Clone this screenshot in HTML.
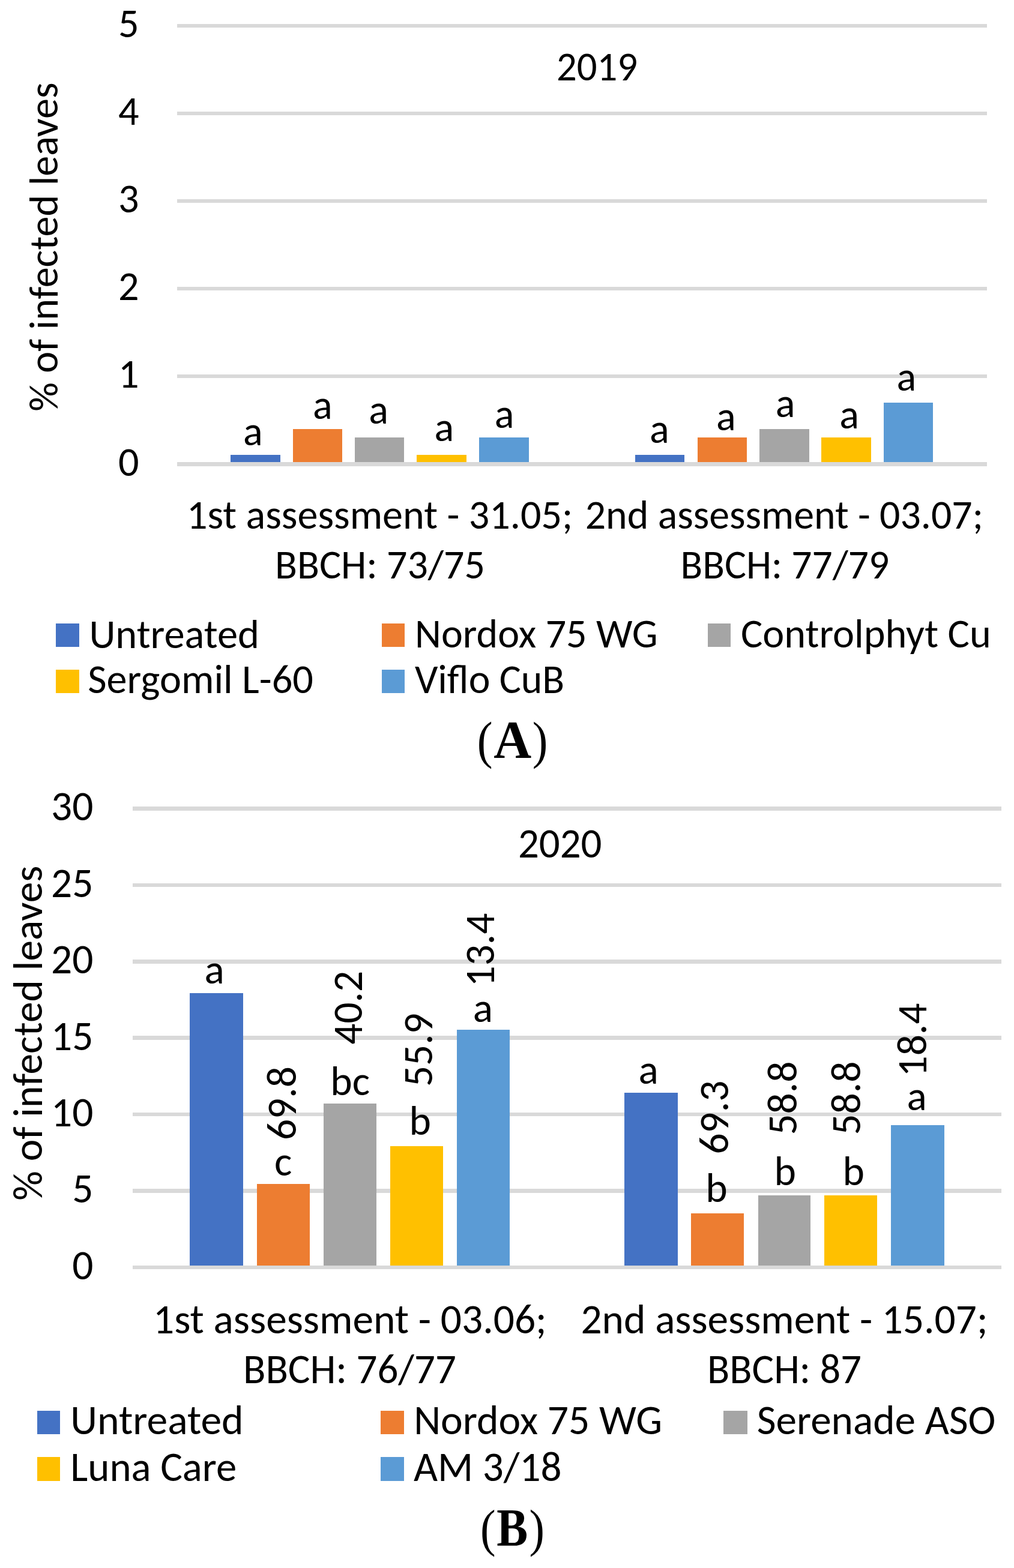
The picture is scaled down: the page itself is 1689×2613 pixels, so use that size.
<!DOCTYPE html>
<html><head><meta charset="utf-8"><title>Figure</title>
<style>html,body{margin:0;padding:0;background:#fff}svg{display:block}</style></head>
<body>
<svg width="1689" height="2613" viewBox="0 0 1689 2613" font-family='"Carlito", "Liberation Sans", sans-serif' fill="#000" style="font-size-adjust:0.4775">
<rect width="1689" height="2613" fill="#fff"/>
<rect x="295" y="770" width="1349" height="7" fill="#D9D9D9"/>
<rect x="295" y="624" width="1349" height="6" fill="#D9D9D9"/>
<rect x="295" y="478" width="1349" height="6" fill="#D9D9D9"/>
<rect x="295" y="332" width="1349" height="6" fill="#D9D9D9"/>
<rect x="295" y="186" width="1349" height="6" fill="#D9D9D9"/>
<rect x="295" y="40" width="1349" height="6" fill="#D9D9D9"/>
<rect x="384" y="758" width="83" height="12" fill="#4472C4"/>
<rect x="488" y="715" width="82" height="55" fill="#ED7D31"/>
<rect x="591" y="729" width="82" height="41" fill="#A5A5A5"/>
<rect x="694" y="758" width="83" height="12" fill="#FFC000"/>
<rect x="798" y="729" width="83" height="41" fill="#5B9BD5"/>
<rect x="1058" y="758" width="82" height="12" fill="#4472C4"/>
<rect x="1162" y="729" width="82" height="41" fill="#ED7D31"/>
<rect x="1265" y="715" width="83" height="55" fill="#A5A5A5"/>
<rect x="1368" y="729" width="83" height="41" fill="#FFC000"/>
<rect x="1472" y="671" width="82" height="99" fill="#5B9BD5"/>
<text id="tickA0" x="231.53" y="792.50" font-size="68.2" text-anchor="end" textLength="34.56" lengthAdjust="spacingAndGlyphs">0</text>
<text id="tickA1" x="231.53" y="646.40" font-size="68.2" text-anchor="end" textLength="34.56" lengthAdjust="spacingAndGlyphs">1</text>
<text id="tickA2" x="231.53" y="500.30" font-size="68.2" text-anchor="end" textLength="34.56" lengthAdjust="spacingAndGlyphs">2</text>
<text id="tickA3" x="231.53" y="354.20" font-size="68.2" text-anchor="end" textLength="34.56" lengthAdjust="spacingAndGlyphs">3</text>
<text id="tickA4" x="231.53" y="208.10" font-size="68.2" text-anchor="end" textLength="34.56" lengthAdjust="spacingAndGlyphs">4</text>
<text id="tickA5" x="231.53" y="62.00" font-size="68.2" text-anchor="end" textLength="34.56" lengthAdjust="spacingAndGlyphs">5</text>
<text id="axisA" transform="translate(96.40 685.85) rotate(-90)" font-size="68.2" textLength="548.41" lengthAdjust="spacingAndGlyphs">% of infected leaves</text>
<text id="titleA" x="926.94" y="134.30" font-size="68.2" textLength="135.24" lengthAdjust="spacingAndGlyphs">2019</text>
<text id="labA0" x="405.10" y="741.90" font-size="68.2" textLength="32.67" lengthAdjust="spacingAndGlyphs">a</text>
<text id="labA1" x="521.00" y="697.90" font-size="68.2" textLength="32.67" lengthAdjust="spacingAndGlyphs">a</text>
<text id="labA2" x="614.20" y="705.50" font-size="68.2" textLength="32.67" lengthAdjust="spacingAndGlyphs">a</text>
<text id="labA3" x="723.45" y="735.10" font-size="68.2" textLength="32.67" lengthAdjust="spacingAndGlyphs">a</text>
<text id="labA4" x="823.70" y="712.90" font-size="68.2" textLength="32.67" lengthAdjust="spacingAndGlyphs">a</text>
<text id="labA5" x="1082.05" y="737.90" font-size="68.2" textLength="32.67" lengthAdjust="spacingAndGlyphs">a</text>
<text id="labA6" x="1192.90" y="716.70" font-size="68.2" textLength="32.67" lengthAdjust="spacingAndGlyphs">a</text>
<text id="labA7" x="1291.80" y="694.50" font-size="68.2" textLength="32.67" lengthAdjust="spacingAndGlyphs">a</text>
<text id="labA8" x="1398.30" y="713.50" font-size="68.2" textLength="32.67" lengthAdjust="spacingAndGlyphs">a</text>
<text id="labA9" x="1493.60" y="650.50" font-size="68.2" textLength="32.67" lengthAdjust="spacingAndGlyphs">a</text>
<text id="cat1A" x="310.91" y="880.80" font-size="68.2" textLength="643.32" lengthAdjust="spacingAndGlyphs">1st assessment - 31.05;</text>
<text id="cat1A2" x="458.00" y="963.60" font-size="68.2" textLength="349.93" lengthAdjust="spacingAndGlyphs">BBCH: 73/75</text>
<text id="cat2A" x="974.74" y="880.80" font-size="68.2" textLength="663.09" lengthAdjust="spacingAndGlyphs">2nd assessment - 03.07;</text>
<text id="cat2A2" x="1133.60" y="963.60" font-size="68.2" textLength="347.59" lengthAdjust="spacingAndGlyphs">BBCH: 77/79</text>
<rect x="93" y="1039" width="39" height="39" fill="#4472C4"/>
<text id="legA0" x="148.40" y="1080.00" font-size="68.2" textLength="283.62" lengthAdjust="spacingAndGlyphs">Untreated</text>
<rect x="636" y="1039" width="38" height="39" fill="#ED7D31"/>
<text id="legA1" x="691.10" y="1079.00" font-size="68.2" textLength="404.48" lengthAdjust="spacingAndGlyphs">Nordox 75 WG</text>
<rect x="1179" y="1039" width="38" height="39" fill="#A5A5A5"/>
<text id="legA2" x="1234.00" y="1079.00" font-size="68.2" textLength="416.76" lengthAdjust="spacingAndGlyphs">Controlphyt Cu</text>
<rect x="93" y="1116" width="39" height="39" fill="#FFC000"/>
<text id="legA3" x="146.30" y="1155.00" font-size="68.2" textLength="375.43" lengthAdjust="spacingAndGlyphs">Sergomil L-60</text>
<rect x="636" y="1116" width="38" height="39" fill="#5B9BD5"/>
<text id="legA4" x="690.90" y="1155.00" font-size="68.2" textLength="249.26" lengthAdjust="spacingAndGlyphs">Viflo CuB</text>
<rect x="221" y="2109" width="1447" height="6" fill="#D9D9D9"/>
<rect x="221" y="1981" width="1447" height="7" fill="#D9D9D9"/>
<rect x="221" y="1854" width="1447" height="6" fill="#D9D9D9"/>
<rect x="221" y="1726" width="1447" height="7" fill="#D9D9D9"/>
<rect x="221" y="1599" width="1447" height="7" fill="#D9D9D9"/>
<rect x="221" y="1472" width="1447" height="6" fill="#D9D9D9"/>
<rect x="221" y="1344" width="1447" height="7" fill="#D9D9D9"/>
<rect x="316" y="1655" width="89" height="454" fill="#4472C4"/>
<rect x="428" y="1973" width="88" height="136" fill="#ED7D31"/>
<rect x="539" y="1839" width="88" height="270" fill="#A5A5A5"/>
<rect x="650" y="1910" width="88" height="199" fill="#FFC000"/>
<rect x="761" y="1716" width="88" height="393" fill="#5B9BD5"/>
<rect x="1040" y="1821" width="89" height="288" fill="#4472C4"/>
<rect x="1151" y="2022" width="88" height="87" fill="#ED7D31"/>
<rect x="1263" y="1992" width="87" height="117" fill="#A5A5A5"/>
<rect x="1373" y="1992" width="88" height="117" fill="#FFC000"/>
<rect x="1484" y="1875" width="89" height="234" fill="#5B9BD5"/>
<text id="tickB0" x="155.40" y="2131.70" font-size="69.4" text-anchor="end" textLength="35.17" lengthAdjust="spacingAndGlyphs">0</text>
<text id="tickB1" x="155.40" y="2004.30" font-size="69.4" text-anchor="end" textLength="35.17" lengthAdjust="spacingAndGlyphs">5</text>
<text id="tickB2" x="155.40" y="1876.90" font-size="69.4" text-anchor="end" textLength="70.34" lengthAdjust="spacingAndGlyphs">10</text>
<text id="tickB3" x="155.40" y="1749.50" font-size="69.4" text-anchor="end" textLength="70.34" lengthAdjust="spacingAndGlyphs">15</text>
<text id="tickB4" x="155.40" y="1622.10" font-size="69.4" text-anchor="end" textLength="70.34" lengthAdjust="spacingAndGlyphs">20</text>
<text id="tickB5" x="155.40" y="1494.70" font-size="69.4" text-anchor="end" textLength="70.34" lengthAdjust="spacingAndGlyphs">25</text>
<text id="tickB6" x="155.40" y="1367.30" font-size="69.4" text-anchor="end" textLength="70.34" lengthAdjust="spacingAndGlyphs">30</text>
<text id="axisB" transform="translate(69.60 2000.64) rotate(-90)" font-size="69.4" textLength="558.08" lengthAdjust="spacingAndGlyphs">% of infected leaves</text>
<text id="titleB" x="862.88" y="1428.60" font-size="69.4" textLength="139.65" lengthAdjust="spacingAndGlyphs">2020</text>
<text id="labB0" x="340.50" y="1639.30" font-size="69.4" textLength="33.25" lengthAdjust="spacingAndGlyphs">a</text>
<text id="labB1" x="457.01" y="1959.10" font-size="69.4" textLength="29.34" lengthAdjust="spacingAndGlyphs">c</text>
<text id="labB2" x="550.27" y="1824.70" font-size="69.4" textLength="65.81" lengthAdjust="spacingAndGlyphs">bc</text>
<text id="labB3" x="681.57" y="1890.50" font-size="69.4" textLength="36.47" lengthAdjust="spacingAndGlyphs">b</text>
<text id="labB4" x="787.65" y="1702.50" font-size="69.4" textLength="33.25" lengthAdjust="spacingAndGlyphs">a</text>
<text id="labB5" x="1063.60" y="1805.50" font-size="69.4" textLength="33.25" lengthAdjust="spacingAndGlyphs">a</text>
<text id="labB6" x="1175.27" y="2003.10" font-size="69.4" textLength="36.47" lengthAdjust="spacingAndGlyphs">b</text>
<text id="labB7" x="1289.57" y="1974.90" font-size="69.4" textLength="36.47" lengthAdjust="spacingAndGlyphs">b</text>
<text id="labB8" x="1403.62" y="1974.90" font-size="69.4" textLength="36.47" lengthAdjust="spacingAndGlyphs">b</text>
<text id="labB9" x="1510.55" y="1849.70" font-size="69.4" textLength="33.25" lengthAdjust="spacingAndGlyphs">a</text>
<text id="rotB0" transform="translate(492.70 1900.12) rotate(-90)" font-size="69.4" textLength="123.03" lengthAdjust="spacingAndGlyphs">69.8</text>
<text id="rotB1" transform="translate(602.50 1740.79) rotate(-90)" font-size="69.4" textLength="123.03" lengthAdjust="spacingAndGlyphs">40.2</text>
<text id="rotB2" transform="translate(720.30 1811.05) rotate(-90)" font-size="69.4" textLength="123.03" lengthAdjust="spacingAndGlyphs">55.9</text>
<text id="rotB3" transform="translate(822.50 1644.50) rotate(-90)" font-size="69.4" textLength="123.03" lengthAdjust="spacingAndGlyphs">13.4</text>
<text id="rotB4" transform="translate(1212.90 1923.57) rotate(-90)" font-size="69.4" textLength="123.03" lengthAdjust="spacingAndGlyphs">69.3</text>
<text id="rotB5" transform="translate(1327.30 1891.60) rotate(-90)" font-size="69.4" textLength="123.03" lengthAdjust="spacingAndGlyphs">58.8</text>
<text id="rotB6" transform="translate(1432.50 1891.60) rotate(-90)" font-size="69.4" textLength="123.03" lengthAdjust="spacingAndGlyphs">58.8</text>
<text id="rotB7" transform="translate(1542.50 1794.50) rotate(-90)" font-size="69.4" textLength="123.03" lengthAdjust="spacingAndGlyphs">18.4</text>
<text id="cat1B" x="255.00" y="2221.80" font-size="69.4" textLength="655.70" lengthAdjust="spacingAndGlyphs">1st assessment - 03.06;</text>
<text id="cat1B2" x="404.92" y="2304.90" font-size="69.4" textLength="354.92" lengthAdjust="spacingAndGlyphs">BBCH: 76/77</text>
<text id="cat2B" x="967.48" y="2221.80" font-size="69.4" textLength="677.99" lengthAdjust="spacingAndGlyphs">2nd assessment - 15.07;</text>
<text id="cat2B2" x="1178.12" y="2304.90" font-size="69.4" textLength="256.93" lengthAdjust="spacingAndGlyphs">BBCH: 87</text>
<rect x="62" y="2351" width="38" height="39" fill="#4472C4"/>
<text id="legB0" x="117.30" y="2390.40" font-size="69.4" textLength="288.40" lengthAdjust="spacingAndGlyphs">Untreated</text>
<rect x="634" y="2351" width="39" height="39" fill="#ED7D31"/>
<text id="legB1" x="689.20" y="2389.70" font-size="69.4" textLength="413.88" lengthAdjust="spacingAndGlyphs">Nordox 75 WG</text>
<rect x="1205" y="2351" width="40" height="39" fill="#A5A5A5"/>
<text id="legB2" x="1260.70" y="2389.70" font-size="69.4" textLength="397.65" lengthAdjust="spacingAndGlyphs">Serenade ASO</text>
<rect x="62" y="2428" width="38" height="40" fill="#FFC000"/>
<text id="legB3" x="117.30" y="2467.50" font-size="69.4" textLength="276.91" lengthAdjust="spacingAndGlyphs">Luna Care</text>
<rect x="634" y="2428" width="39" height="40" fill="#5B9BD5"/>
<text id="legB4" x="689.00" y="2467.50" font-size="69.4" textLength="246.58" lengthAdjust="spacingAndGlyphs">AM 3/18</text>
<text id="capA_l" transform="matrix(0.7769 0 0 0.8656 794.69 1262.62)" font-family='"Liberation Serif", "Times New Roman", serif' font-size="100" style="font-size-adjust:none">(</text>
<text id="capA_A" transform="matrix(0.8714 0 0 0.8788 822.13 1261.90)" font-family='"Liberation Serif", "Times New Roman", serif' font-size="100" style="font-size-adjust:none" font-weight="bold">A</text>
<text id="capA_r" transform="matrix(0.7692 0 0 0.8656 886.69 1262.62)" font-family='"Liberation Serif", "Times New Roman", serif' font-size="100" style="font-size-adjust:none">)</text>
<text id="capB_l" transform="matrix(0.7692 0 0 0.8656 800.02 2575.82)" font-family='"Liberation Serif", "Times New Roman", serif' font-size="100" style="font-size-adjust:none">(</text>
<text id="capB_B" transform="matrix(0.7790 0 0 0.8846 827.24 2574.60)" font-family='"Liberation Serif", "Times New Roman", serif' font-size="100" style="font-size-adjust:none" font-weight="bold">B</text>
<text id="capB_r" transform="matrix(0.7654 0 0 0.8656 881.60 2575.82)" font-family='"Liberation Serif", "Times New Roman", serif' font-size="100" style="font-size-adjust:none">)</text>
</svg>
</body></html>
